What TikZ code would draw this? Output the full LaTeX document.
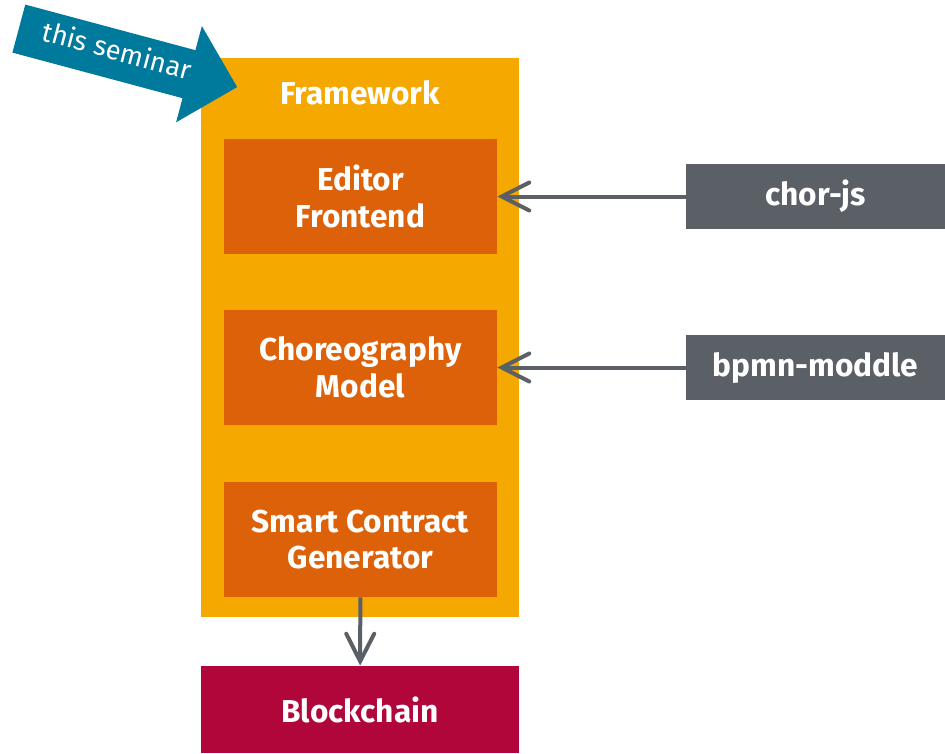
\documentclass[tikz,border=0pt]{standalone}
\usepackage{fontspec}
\setmainfont{Fira Sans}
\usetikzlibrary{arrows.meta,shapes.arrows}

\definecolor{fworange}{HTML}{F5A800}
\definecolor{partorange}{HTML}{DD6109}
\definecolor{chainred}{HTML}{B0063A}
\definecolor{libgray}{HTML}{5A6066}
\definecolor{seminarteal}{HTML}{007A9C}

\tikzset{
	boxfont/.style={text=white, font=\bfseries\fontsize{18}{21}\selectfont},
	part/.style={boxfont, fill=partorange,
		minimum width=5.46cm, minimum height=2.3cm, align=center, inner sep=0pt},
	lib/.style={boxfont, fill=libgray,
		minimum width=5.18cm, minimum height=1.3cm, inner sep=0pt},
	feed/.style={draw=libgray, line width=0.08cm,
		-{Straight Barb[length=5.5mm, width=5.6mm, line cap=round]}}
}

\begin{document}
\begin{tikzpicture}
	\useasboundingbox (0,0) rectangle (18.9,-15.06);

	% Framework with its parts
	\begin{scope}[xshift=0cm, yshift=0cm]
		\node[fill=fworange, minimum width=6.36cm, minimum height=11.18cm, inner sep=0pt] (FW) at (7.2, -6.75) {};
		\node[boxfont] (FWlabel) at (7.2, -1.86) {Framework};

		\node[part] (editor) at (7.21, -3.93) {Editor\\Frontend};
		\node[part] (model) at (7.21, -7.35) {Choreography\\Model};
		\node[part] (gen) at (7.21, -10.79) {Smart Contract\\Generator};

		\node[boxfont, fill=chainred,
			minimum width=6.36cm, minimum height=1.74cm, inner sep=0pt] (chain) at (7.2, -14.19) {Blockchain};
	\end{scope}

	% External libraries
	\begin{scope}[xshift=0cm, yshift=0cm]
		\node[lib] (chorjs) at (16.31, -3.93) {chor-js};
		\node[lib] (moddle) at (16.31, -7.35) {bpmn-moddle};
	\end{scope}

	% Connections
	\draw[feed] (chorjs) -- (editor);
	\draw[feed] (moddle) -- (model);
	\draw[feed] (gen) -- (chain);

	% Pointer to the seminar topic
	\node[single arrow, fill=seminarteal, text=white, font=\fontsize{15.5}{18}\selectfont,
		minimum height=4.52cm, single arrow head extend=0.5cm,
		inner xsep=0pt, inner ysep=0.28cm, text height=0.32cm, text depth=0.1cm,
		anchor=tail, rotate=-15] (seminar) at (0.37, -0.57) {this seminar};
\end{tikzpicture}
\end{document}
